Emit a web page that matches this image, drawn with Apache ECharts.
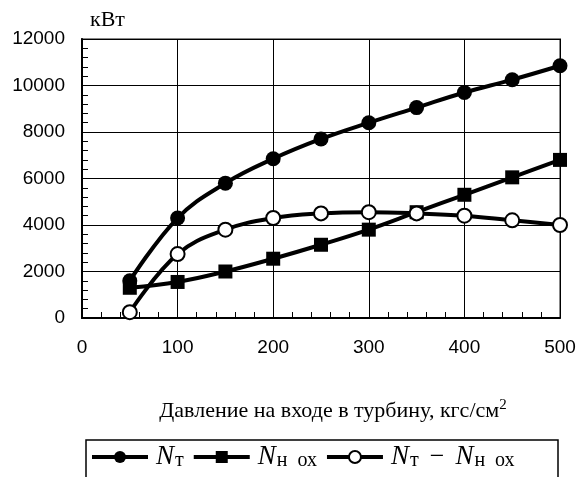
<!DOCTYPE html>
<html><head><meta charset="utf-8">
<script src="https://cdn.jsdelivr.net/npm/echarts@6/dist/echarts.min.js"></script>
<style>html,body{margin:0;padding:0;background:#fff}#c{width:579px;height:477px}</style>
</head><body><div id="c"></div>
<script>
const pressure = [50, 100, 150, 200, 250, 300, 350, 400, 450, 500];
const nTurbine = [1600, 4300, 5800, 6850, 7700, 8400, 9050, 9700, 10250, 10850];
const nPump = [1300, 1550, 2000, 2550, 3150, 3800, 4550, 5300, 6050, 6800];
const nDiff = [250, 2750, 3800, 4300, 4500, 4550, 4500, 4400, 4200, 4000];
const xTicks = {min: 0, max: 500, interval: 100};
const yTicks = {min: 0, max: 12000, interval: 2000};
const yUnit = 'кВт';
const xTitle = 'Давление на входе в турбину, кгс/см';

const pairs = a => pressure.map((p, i) => [p, a[i]]);
const chart = echarts.init(document.getElementById('c'));
const serif = 'Liberation Serif';
const sans = 'Liberation Sans';
const legendRich = {
  n: {fontFamily: serif, fontStyle: 'italic', fontSize: 27, color: '#000', lineHeight: 28},
  s: {fontFamily: serif, fontSize: 20, color: '#000', lineHeight: 28, padding: [8, 0, 0, 1]},
  m: {fontFamily: serif, fontSize: 26, color: '#000', lineHeight: 28, padding: [0, 11, 0, 11]}
};
const legendText = {
  a: '{n|N}{s|т}',
  b: '{n|N}{s|н\u2002ох}',
  c: '{n|N}{s|т}{m|−}{n|N}{s|н\u2002ох}'
};
const common = {type: 'line', smooth: 0.4, lineStyle: {color: '#000', width: 4}, symbolSize: 15};
chart.setOption({
  animation: false,
  grid: {left: 82, right: 19, top: 39, bottom: 159, show: true, borderColor: '#888', borderWidth: 2, backgroundColor: 'transparent'},
  xAxis: {
    type: 'value', min: xTicks.min, max: xTicks.max, interval: xTicks.interval,
    name: xTitle + '{sup|2}', nameLocation: 'middle', nameGap: 80,
    nameTextStyle: {fontFamily: serif, fontSize: 22, color: '#000', padding: [0, 0, 0, 24],
      rich: {sup: {fontFamily: serif, fontSize: 15, color: '#000', padding: [0, 0, 12, 0]}}},
    axisLine: {show: true, lineStyle: {color: '#000', width: 2}},
    axisTick: {show: false, inside: true},
    minorTick: {show: true, splitNumber: 5, length: 6, lineStyle: {color: '#000', width: 1}},
    axisLabel: {fontFamily: sans, fontSize: 19, color: '#000', margin: 20, formatter: v => String(v)},
    splitLine: {show: true, lineStyle: {color: '#000', width: 1}}
  },
  yAxis: {
    type: 'value', min: yTicks.min, max: yTicks.max, interval: yTicks.interval,
    name: yUnit, nameLocation: 'end', nameGap: 8,
    nameTextStyle: {fontFamily: serif, fontSize: 22, color: '#000', align: 'left', padding: [0, 0, 0, 8]},
    axisLine: {show: true, lineStyle: {color: '#000', width: 2}},
    axisTick: {show: false, inside: true},
    minorTick: {show: true, splitNumber: 5, length: 6, lineStyle: {color: '#000', width: 1}},
    axisLabel: {fontFamily: sans, fontSize: 19, color: '#000', margin: 17, formatter: v => String(v)},
    splitLine: {show: true, lineStyle: {color: '#000', width: 1}}
  },
  legend: {
    left: 90, top: 443, itemGap: 8, itemWidth: 56, itemHeight: 15, padding: 0,
    lineStyle: {width: 4},
    data: ['a', 'b', 'c'],
    formatter: n => legendText[n],
    textStyle: {rich: legendRich, fontFamily: serif, fontSize: 26, color: '#000', padding: [0, 0, 0, 3]}
  },
  graphic: [{type: 'rect', shape: {x: 86, y: 440, width: 472, height: 45}, style: {fill: 'none', stroke: '#000', lineWidth: 1.5}, z: 100}],
  series: [
    Object.assign({}, common, {name: 'a', symbol: 'circle', itemStyle: {color: '#000'}, data: pairs(nTurbine)}),
    Object.assign({}, common, {name: 'b', symbol: 'rect', symbolSize: 14, itemStyle: {color: '#000'}, data: pairs(nPump)}),
    Object.assign({}, common, {name: 'c', symbol: 'circle', symbolSize: 14, itemStyle: {color: '#fff', borderColor: '#000', borderWidth: 2}, data: pairs(nDiff)})
  ]
});
</script></body></html>
